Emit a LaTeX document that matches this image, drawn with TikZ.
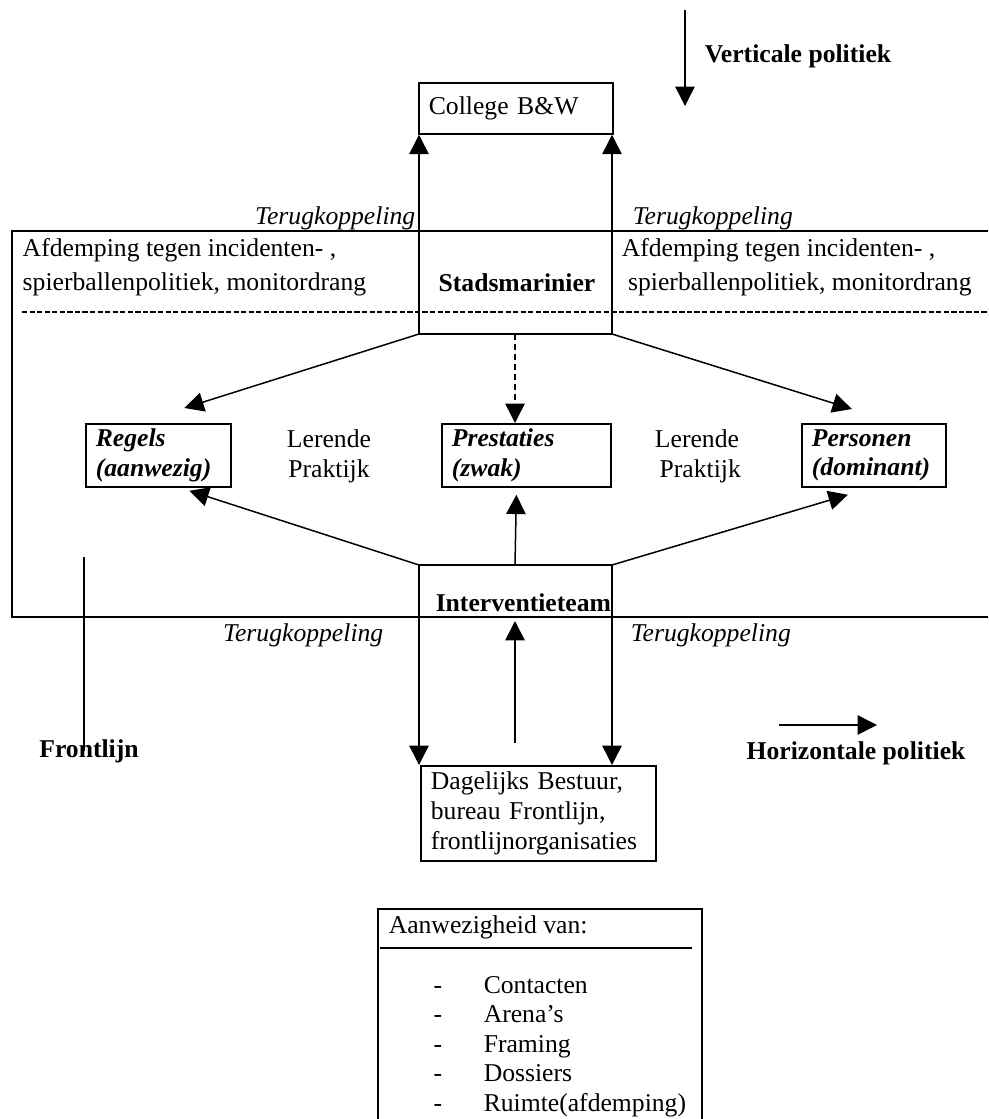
\documentclass[tikz,border=0pt]{standalone}
\usepackage{fontspec}
\setmainfont{Liberation Serif}
\usetikzlibrary{arrows.meta}
\newcommand\dfont{\fontsize{14.6}{17}\selectfont}

\begin{document}
\begin{tikzpicture}[x=0.02cm, y=-0.02cm,
        every node/.style={inner sep=0pt, font=\dfont},
        box/.style={draw, line width=1pt, anchor=north west, align=left, inner xsep=0.2cm, inner ysep=0pt},
        bold/.style={font=\dfont\bfseries},
        ital/.style={font=\dfont\itshape},
        frame/.style={line width=1.4pt},
        line width=0.85pt, >={Triangle[width=11pt,length=11pt]}]
        \useasboundingbox (0,0) rectangle (988,1119);
        \clip (0,0) rectangle (988,1119);
        \coordinate (vtop) at (685,10);
        \coordinate (vbot) at (685,106);
        \draw[->] (vtop) -- (vbot);
        \node[bold, anchor=west] (vp) at (704,56) {Verticale politiek};
        \node[box, text width=3.48cm, minimum height=1.02cm] (cbw) at (418,82) {College B\&W\\[-4pt]};
        \node[ital, anchor=east] (tk1) at (416,218) {Terugkoppeling};
        \node[ital, anchor=west] (tk2) at (632,218) {Terugkoppeling};
        \draw[frame] (1000,231) -- (12,231) -- (12,617) -- (1000,617);
        \node[anchor=west, align=left] (afl) at (22,267) {Afdemping tegen incidenten- ,\\[2.5pt]spierballenpolitiek, monitordrang};
        \node[anchor=west, align=left] (afr) at (621,267) {Afdemping tegen incidenten- ,\\[2.5pt]\ spierballenpolitiek, monitordrang};
        \node[bold] (stad) at (517,283) {Stadsmarinier};
        \draw[line width=1.6pt, dash pattern=on 3pt off 1.3pt] (22,312) -- (1000,312);
        \coordinate (sl) at (419,334);
        \coordinate (sm) at (515,334);
        \coordinate (sr) at (612,334);
        \draw (sl) -- (sr);
        \draw[->] (sl) -- (sl |- cbw.south);
        \draw[->] (sr) -- (sr |- cbw.south);
        \node[box, text width=2.5cm, minimum height=1.26cm, font=\dfont\bfseries\itshape] (reg) at (85,423) {Regels\\(aanwezig)};
        \node[box, text width=2.98cm, minimum height=1.26cm, font=\dfont\bfseries\itshape] (pre) at (441,423) {Prestaties\\(zwak)};
        \node[box, text width=2.48cm, minimum height=1.26cm, font=\dfont\bfseries\itshape] (per) at (801,423) {Personen\\(dominant)};
        \node[align=center] (lp1) at (329,456) {Lerende\\Praktijk};
        \node[align=center] (lp2) at (697,456) {Lerende\\\ Praktijk};
        \draw[->] (sl) -- ([shift={(26,-15)}]reg.north);
        \draw[->, dash pattern=on 3.4pt off 2.3pt] (sm) -- (sm |- pre.north);
        \draw[->] (sr) -- ([shift={(-22,-14)}]per.north);
        \coordinate (il) at (419,565);
        \coordinate (im) at (515,565);
        \coordinate (ir) at (612,565);
        \draw (il) -- (ir);
        \draw[->] (il) -- ([shift={(31,3)}]reg.south);
        \draw[->] (im) -- ([shift={(-10,7)}]pre.south);
        \draw[->] (ir) -- ([shift={(-26,7)}]per.south);
        \node[bold, anchor=west] (iv) at (435,603) {Interventieteam};
        \node[ital, anchor=east] (tk3) at (384,635) {Terugkoppeling};
        \node[ital, anchor=west] (tk4) at (630,635) {Terugkoppeling};
        \node[box, text width=4.3cm, minimum height=1.9cm] (dag) at (420,765) {Dagelijks Bestuur,\\bureau Frontlijn,\\frontlijnorganisaties};
        \draw[->] (il) -- (il |- dag.north);
        \draw[->] (ir) -- (ir |- dag.north);
        \coordinate (mb) at (515,743);
        \coordinate (mt) at (515,621);
        \draw[->] (mb) -- (mt);
        \node[bold] (fl) at (89,751) {Frontlijn};
        \coordinate (flt) at (84,557);
        \draw (flt) -- (flt |- fl.center);
        \coordinate (hl) at (779,725);
        \coordinate (hr) at (877,725);
        \draw[->] (hl) -- (hr);
        \node[bold] (hp) at (856,753) {Horizontale politiek};
        \draw[line width=1pt] (378,1130) -- (378,909) -- (702,909) -- (702,1130);
        \node[anchor=base west] (aw) at (388,933) {Aanwezigheid van:};
        \draw[line width=0.7pt] (380,948) -- (692,948);
        \foreach \t [count=\i] in {Contacten, Arena's, Framing, Dossiers, Ruimte(afdemping)} {
            \node[anchor=base] (d\i) at (438,963.5+29.5*\i) {-};
            \node[anchor=base west] (it\i) at (483,963.5+29.5*\i) {\t};
        }
    \end{tikzpicture}
\end{document}
